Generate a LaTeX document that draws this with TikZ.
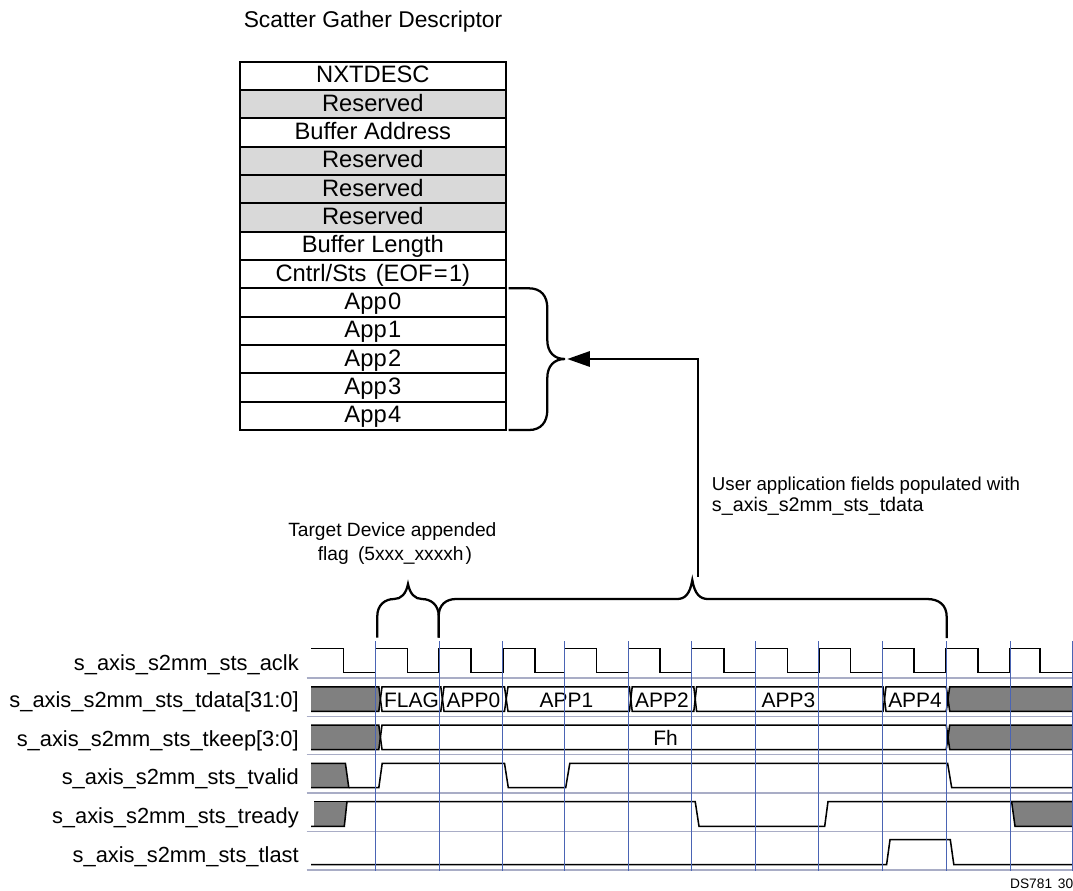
\documentclass[tikz,border=0pt]{standalone}
\usepackage{fontspec}
\setmainfont{Liberation Sans}
\usetikzlibrary{positioning, arrows.meta}

\begin{document}
\begin{tikzpicture}[
        x=0.75pt, y=-0.75pt, >={Triangle[length=17pt, width=11.5pt]},
        field/.style={rectangle, draw=black, line width=1.4pt, minimum width=199.3pt, minimum height=21.25pt,
                      inner sep=0pt, outer sep=0pt, text height=12.6pt, text depth=2.3pt,
                      font=\fontsize{17.8}{20}\selectfont},
        reserved/.style={field, fill=fieldgray},
        signame/.style={anchor=base east, inner sep=0pt, font=\fontsize{16.4}{19}\selectfont},
        busval/.style={anchor=base, inner sep=0pt, font=\fontsize{15.7}{19}\selectfont},
        note/.style={anchor=base west, inner sep=0pt, font=\fontsize{14}{16}\selectfont},
        wave/.style={draw=black, line width=1.15pt},
        unknown/.style={fill=wavegray},
        rowline/.style={draw=rowgray, line width=1.2pt},
        edgeline/.style={draw=edgeblue, line width=0.75pt},
        brace/.style={draw=black, line width=1.7pt}
    ]
        \definecolor{fieldgray}{HTML}{D9D9D9}
        \definecolor{wavegray}{HTML}{808080}
        \definecolor{rowgray}{HTML}{A9ADC6}
        \definecolor{edgeblue}{HTML}{4A64B4}

        \useasboundingbox (0,0) rectangle (1073,890);

        % --- DESCRIPTOR TABLE ---
        \node[anchor=base west, inner sep=0pt, font=\fontsize{17.1}{20}\selectfont] (title) at (243.5,27.2) {Scatter Gather Descriptor};
        \node[field] (nxtdesc) at (372.85,75.85) {NXTDESC};
        \node[reserved, below=0pt of nxtdesc] (rsv1) {Reserved};
        \node[field, below=0pt of rsv1] (bufaddr) {Buffer Address};
        \node[reserved, below=0pt of bufaddr] (rsv2) {Reserved};
        \node[reserved, below=0pt of rsv2] (rsv3) {Reserved};
        \node[reserved, below=0pt of rsv3] (rsv4) {Reserved};
        \node[field, below=0pt of rsv4] (buflen) {Buffer Length};
        \node[field, below=0pt of buflen] (cntrl) {Cntrl/Sts\kern2pt{} (EOF\kern1pt=\kern1pt1)};
        \node[field, below=0pt of cntrl] (app0) {App\kern1pt0};
        \node[field, below=0pt of app0] (app1) {App\kern1pt1};
        \node[field, below=0pt of app1] (app2) {App\kern1pt2};
        \node[field, below=0pt of app2] (app3) {App\kern1pt3};
        \node[field, below=0pt of app3] (app4) {App\kern1pt4};

        % --- BRACES AND ARROW ---
        \coordinate (uppertip) at (567.3,359);
        \coordinate (lowertip) at (698.3,576.7);
        \draw[brace] (508.7,288.3) -- (529,288.3) .. controls (541,288.3) and (547.3,296) .. (547.3,308)
            -- (547.3,340) .. controls (547.3,352) and (554,359) .. (565,359)
            .. controls (554,359) and (547.3,366) .. (547.3,378)
            -- (547.3,410) .. controls (547.3,422) and (541,430) .. (529,430) -- (508.7,430);
        \draw[brace] (377.3,637.7) -- (377.3,616) .. controls (377.3,605) and (385,599) .. (394,599)
            .. controls (401,599) and (406,594) .. (408,584)
            .. controls (410,594) and (415,599) .. (422,599)
            .. controls (431,599) and (438.7,605) .. (438.7,616) -- (438.7,637.7);
        \draw[brace] (438.7,637.7) -- (438.7,616) .. controls (438.7,605) and (446,599) .. (456,599)
            -- (677,599) .. controls (685,599) and (690,594) .. (692.3,580)
            .. controls (694.6,594) and (700,599) .. (708,599)
            -- (927,599) .. controls (939,599) and (946.7,605) .. (946.7,617) -- (946.7,638);
        \draw[->, brace] (lowertip) |- (uppertip);

        % --- NOTES ---
        \node[note] (usernote1) at (711.7,490) {User application fields populated with};
        \node[note, font=\fontsize{14.8}{16}\selectfont] (usernote2) at (711.7,511.7) {s\_axis\_s2mm\_sts\_tdata};
        \node[note, font=\fontsize{14.4}{16}\selectfont] (flagnote1) at (288,536.7) {Target Device appended};
        \node[note, font=\fontsize{14.4}{16}\selectfont] (flagnote2) at (317.5,560) {flag\kern3pt{} (5xxx\_xxxxh\kern1.5pt)};
        \node[anchor=base east, inner sep=0pt, font=\fontsize{10.3}{11}\selectfont] (dsnum) at (1073.5,888) {DS781\kern1.5pt{} 30};

        % --- SIGNAL NAMES ---
        \node[signame] (clkname) at (299,670) {s\_axis\_s2mm\_sts\_aclk};
        \node[signame] (dataname) at (299,707.8) {s\_axis\_s2mm\_sts\_tdata[31:0]};
        \node[signame] (keepname) at (299,746.4) {s\_axis\_s2mm\_sts\_tkeep[3:0]};
        \node[signame] (validname) at (299,784.3) {s\_axis\_s2mm\_sts\_tvalid};
        \node[signame] (readyname) at (299,823) {s\_axis\_s2mm\_sts\_tready};
        \node[signame] (lastname) at (299,862) {s\_axis\_s2mm\_sts\_tlast};

        % --- ROW LINES ---
        \draw[rowline] (306.5,677.9) -- (1073,677.9);
        \draw[rowline] (306.5,716.4) -- (1073,716.4);
        \draw[rowline] (306.5,754.6) -- (1073,754.6);
        \draw[rowline] (306.5,793.2) -- (1073,793.2);
        \draw[rowline] (306.5,831.4) -- (1073,831.4);
        \draw[rowline] (306.5,869.7) -- (1073,869.7);

        % --- CLOCK ---
        \draw[wave] (311,648.6) -- (343.7,648.6) -- (343.7,672.7) -- (375.3,672.7) -- (375.3,648.6)
            -- (407.4,648.6) -- (407.4,672.7) -- (439,672.7) -- (439,648.6)
            -- (471,648.6) -- (471,672.7) -- (502.8,672.7) -- (502.8,648.6)
            -- (534.8,648.6) -- (534.8,672.7) -- (564.3,672.7) -- (564.3,648.6)
            -- (596.4,648.6) -- (596.4,672.7) -- (628.4,672.7) -- (628.4,648.6)
            -- (660,648.6) -- (660,672.7) -- (691.7,672.7) -- (691.7,648.6)
            -- (723.8,648.6) -- (723.8,672.7) -- (755.4,672.7) -- (755.4,648.6)
            -- (787.5,648.6) -- (787.5,672.7) -- (818.8,672.7) -- (818.8,648.6)
            -- (850.5,648.6) -- (850.5,672.7) -- (882.5,672.7) -- (882.5,648.6)
            -- (914.2,648.6) -- (914.2,672.7) -- (946.2,672.7) -- (946.2,648.6)
            -- (977.9,648.6) -- (977.9,672.7) -- (1010,672.7) -- (1010,648.6)
            -- (1039.9,648.6) -- (1039.9,672.7) -- (1072.5,672.7) -- (1072.5,648.6) -- (1073,648.6);

        % --- TDATA ---
        \fill[unknown] (311,686.8) -- (378.8,686.8) -- (380.4,699) -- (378.8,711.3) -- (311,711.3) -- cycle;
        \draw[wave] (311,686.8) -- (378.8,686.8) -- (380.4,699) -- (378.8,711.3) -- (311,711.3);
        \draw[wave] (382,686.8) -- (440.8,686.8) -- (442.4,699) -- (440.8,711.3) -- (382,711.3) -- (380.4,699) -- cycle;
        \draw[wave] (444,686.8) -- (504.5,686.8) -- (506.2,699) -- (504.5,711.3) -- (444,711.3) -- (442.4,699) -- cycle;
        \draw[wave] (508,686.8) -- (629.4,686.8) -- (630.8,699) -- (629.4,711.3) -- (508,711.3) -- (506.2,699) -- cycle;
        \draw[wave] (632.2,686.8) -- (693.8,686.8) -- (695.2,699) -- (693.8,711.3) -- (632.2,711.3) -- (630.8,699) -- cycle;
        \draw[wave] (696.6,686.8) -- (883,686.8) -- (884.5,699) -- (883,711.3) -- (696.6,711.3) -- (695.2,699) -- cycle;
        \draw[wave] (886,686.8) -- (946.2,686.8) -- (948,699) -- (946.2,711.3) -- (886,711.3) -- (884.5,699) -- cycle;
        \draw[wave, unknown] (1073,686.8) -- (949.7,686.8) -- (948,699) -- (949.7,711.3) -- (1073,711.3);
        \node[busval] (flagval) at (411.5,707) {FLAG};
        \node[busval] (app0val) at (473.5,707) {APP0};
        \node[busval] (app1val) at (566.4,707) {APP1};
        \node[busval] (app2val) at (662,707) {APP2};
        \node[busval] (app3val) at (788.5,707) {APP3};
        \node[busval] (app4val) at (915,707) {APP4};

        % --- TKEEP ---
        \fill[unknown] (311,725) -- (378.8,725) -- (380.4,737.25) -- (378.8,749.5) -- (311,749.5) -- cycle;
        \draw[wave] (311,725) -- (378.8,725) -- (380.4,737.25) -- (378.8,749.5) -- (311,749.5);
        \draw[wave] (382,725) -- (946.2,725) -- (948,737.25) -- (946.2,749.5) -- (382,749.5) -- (380.4,737.25) -- cycle;
        \draw[wave, unknown] (1073,725) -- (949.7,725) -- (948,737.25) -- (949.7,749.5) -- (1073,749.5);
        \node[busval] (keepval) at (665.6,745) {Fh};

        % --- TVALID ---
        \fill[unknown] (311,763.3) -- (345.4,763.3) -- (348.8,787.7) -- (311,787.7) -- cycle;
        \draw[wave] (311,763.3) -- (345.4,763.3) -- (348.8,787.7) -- (311,787.7);
        \draw[wave] (348.8,787.7) -- (378.8,787.7) -- (382.2,763.3) -- (504.5,763.3) -- (508.3,787.7)
            -- (565.7,787.7) -- (569.8,763.3) -- (947.6,763.3) -- (951.7,787.7) -- (1073,787.7);

        % --- TREADY ---
        \fill[unknown] (314,801.5) -- (347,801.5) -- (344.3,826.3) -- (314,826.3) -- cycle;
        \draw[wave] (311,826.3) -- (344.3,826.3) -- (347,801.5) -- (695.2,801.5) -- (699,826.3)
            -- (824.7,826.3) -- (828,801.5) -- (1073,801.5);
        \draw[wave] (314,801.5) -- (347,801.5);
        \draw[wave, unknown] (1073,826.3) -- (1015,826.3) -- (1011.6,801.5) -- (1073,801.5);

        % --- TLAST ---
        \draw[wave] (311,864.5) -- (886.6,864.5) -- (890,839.7) -- (950.3,839.7) -- (953.8,864.5) -- (1073,864.5);

        % --- CLOCK EDGE LINES ---
        \draw[edgeline] (375.3,641.4) -- (375.3,871.4);
        \draw[edgeline] (439,641.4) -- (439,871.4);
        \draw[edgeline] (502.8,641.4) -- (502.8,871.4);
        \draw[edgeline] (564.3,641.4) -- (564.3,871.4);
        \draw[edgeline] (628.4,641.4) -- (628.4,871.4);
        \draw[edgeline] (691.7,641.4) -- (691.7,871.4);
        \draw[edgeline] (755.4,641.4) -- (755.4,871.4);
        \draw[edgeline] (818.8,641.4) -- (818.8,871.4);
        \draw[edgeline] (882.5,641.4) -- (882.5,871.4);
        \draw[edgeline] (946.2,641.4) -- (946.2,871.4);
        \draw[edgeline] (1010,641.4) -- (1010,871.4);
        \draw[edgeline] (1072.5,641.4) -- (1072.5,871.4);

    \end{tikzpicture}
\end{document}
